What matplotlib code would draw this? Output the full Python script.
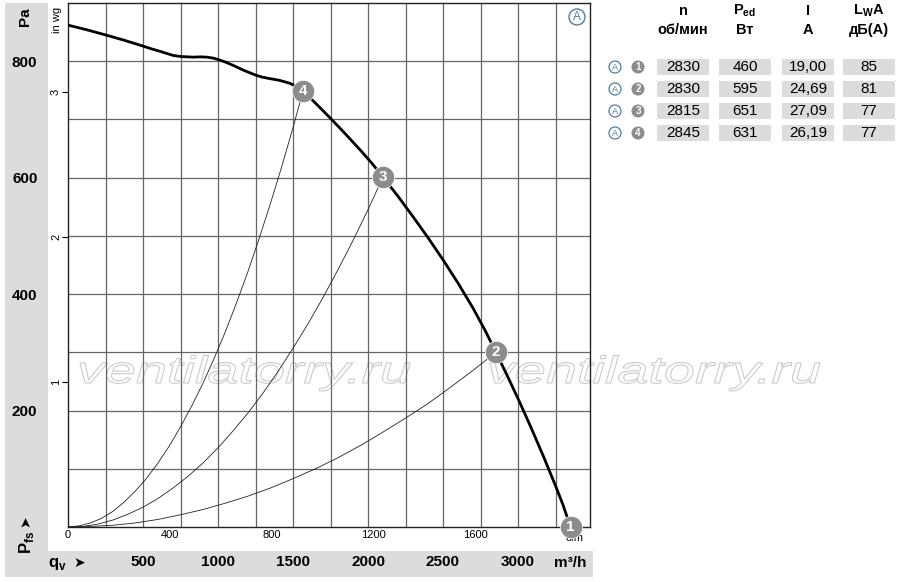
import matplotlib
matplotlib.use('Agg')
import matplotlib.pyplot as plt
import matplotlib.transforms as mtransforms
from matplotlib import font_manager
from matplotlib.font_manager import FontProperties
from matplotlib.textpath import TextPath
from matplotlib.patches import PathPatch, Rectangle, Circle
import numpy as np

# fan curve: air flow qv (m3/h) and static pressure pfs (Pa)
fan_q = [0, 125, 253, 375, 500, 560, 613, 700, 753, 800, 833, 880, 927, 965, 1000, 1050,
         1100, 1175, 1253, 1290, 1327, 1370, 1413, 1480, 1525, 1567,
         1650, 1750, 1850, 1950, 2025, 2100, 2200, 2300, 2400, 2500, 2600, 2700, 2780, 2853,
         2930, 3010, 3090, 3170, 3250, 3300, 3350]
fan_p = [862, 854, 845, 836, 826, 821, 817, 810, 808, 807.5, 807, 807.5, 807, 805.5, 803, 798.5,
         793, 784, 776, 773, 771, 769, 767, 762, 756, 749,
         728, 702, 675, 647, 625, 601, 568, 533, 497, 459, 419, 376, 338, 300,
         259, 215, 169, 121, 71, 38, 0]

# operating points 1..4
point_no = ['1', '2', '3', '4']
point_q = [3350, 2853, 2100, 1567]
point_p = [0, 300, 601, 749]

# system curves ending at points 2, 3 and 4
sys2_q = [0, 150, 300, 450, 600, 750, 900, 1050, 1200, 1350, 1500, 1650, 1800, 1950,
          2100, 2250, 2400, 2550, 2700, 2853]
sys2_p = [0, 1, 3, 7, 13, 21, 30, 41, 53, 67, 83, 100, 119, 140, 163, 187, 212, 240, 269, 300]
sys3_q = [0, 100, 200, 300, 400, 500, 600, 700, 800, 900, 1000, 1100, 1200, 1300, 1400,
          1500, 1600, 1700, 1800, 1900, 2000, 2100]
sys3_p = [0, 1, 5, 12, 22, 34, 49, 67, 87, 110, 136, 165, 196, 230, 267, 307, 349, 394,
          442, 492, 545, 601]
sys4_q = [0, 75, 150, 225, 300, 375, 450, 525, 600, 675, 750, 825, 900, 975, 1050, 1125,
          1200, 1275, 1350, 1425, 1500, 1567]
sys4_p = [0, 2, 7, 15, 27, 43, 62, 84, 110, 139, 172, 208, 247, 290, 336, 386, 439, 496,
          556, 619, 686, 749]

# table
rpm = ['2830', '2830', '2815', '2845']
power = ['460', '595', '651', '631']
current = ['19,00', '24,69', '27,09', '26,19']
noise = ['85', '81', '77', '77']

pa_ticks = [200, 400, 600, 800]
inwg_ticks = [1, 2, 3]
m3h_ticks = [500, 1000, 1500, 2000, 2500, 3000]
cfm_ticks = [0, 400, 800, 1200, 1600]

names = {f.name for f in font_manager.fontManager.ttflist}
narrow = 'Liberation Sans Narrow' if 'Liberation Sans Narrow' in names else 'Liberation Sans'
plt.rcParams['font.family'] = [narrow, 'DejaVu Sans']
plt.rcParams['mathtext.fontset'] = 'custom'
plt.rcParams['mathtext.rm'] = narrow
plt.rcParams['mathtext.bf'] = narrow + ':bold'

W, H = 900, 582
band = '#dcdcde'
grid = '#666666'
blue = '#4f7fa6'
dot = '#8c8c8c'

fig = plt.figure(figsize=(W / 100, H / 100), dpi=100)
# pixel coords, origin top-left
px = mtransforms.Affine2D().scale(1 / W, -1 / H).translate(0, 1) + fig.transFigure

fig.add_artist(Rectangle((5, 3), 43, 574, transform=px, color=band, lw=0, zorder=-2))
fig.add_artist(Rectangle((5, 551), 588, 26, transform=px, color=band, lw=0, zorder=-2))

ax = fig.add_axes([68 / W, 1 - 527 / H, 522 / W, 524 / H])
ax.set_facecolor('none')
ax.set_xlim(0, 3480)
ax.set_ylim(0, 900)

ax.set_xticks(m3h_ticks)
ax.set_xticks(np.arange(250, 3480, 250), minor=True)
ax.set_yticks(pa_ticks)
ax.set_yticks(np.arange(100, 900, 100), minor=True)
ax.grid(which='both', color=grid, lw=0.9)
ax.set_axisbelow(True)
ax.tick_params(which='both', length=0)
ax.tick_params(axis='y', pad=22, labelsize=11)
ax.tick_params(axis='x', pad=20, labelsize=11)
for lab in ax.get_xticklabels() + ax.get_yticklabels():
    lab.set_fontweight('bold')
for s in ax.spines.values():
    s.set_color('#222222')
    s.set_linewidth(1)

secx = ax.secondary_xaxis('bottom', functions=(lambda q: q / 1.699, lambda c: c * 1.699))
secx.set_xticks(cfm_ticks)
secx.tick_params(length=0, pad=2.5, labelsize=8)
secx.spines['bottom'].set_visible(False)

secy = ax.secondary_yaxis('left', functions=(lambda p: p / 249.09, lambda w: w * 249.09))
secy.set_yticks(inwg_ticks)
secy.tick_params(length=4.5, width=0.8, pad=0.5, labelsize=8, labelrotation=90)
for lab in secy.get_yticklabels():
    lab.set_va('center')
secy.spines['left'].set_visible(False)

# watermark
wm_font = FontProperties(family='Liberation Sans', style='italic')
wm_path = TextPath((0, 0), 'ventilatorry.ru', size=38, prop=wm_font)
ext = wm_path.get_extents()
sx = 330 / ext.width
for x0 in (80, 490):
    tr = mtransforms.Affine2D().translate(-ext.x0, 0).scale(sx, -1).translate(x0, 383) + px
    fig.add_artist(PathPatch(wm_path, transform=tr, facecolor='none',
                             edgecolor='#cbcbcb', lw=0.8, zorder=-1))

for q, p in ((sys2_q, sys2_p), (sys3_q, sys3_p), (sys4_q, sys4_p)):
    ax.plot(q, p, color='#222222', lw=0.6, zorder=3)
ax.plot(fan_q, fan_p, color='black', lw=2, zorder=4, solid_joinstyle='round')

ax.text(575, 538, 'cfm', transform=px, fontsize=8, ha='center', va='center', zorder=4)
ax.plot(point_q, point_p, 'o', ms=16, color=dot, mec='white', mew=0.5, clip_on=False, zorder=5)
for n, q, p in zip(point_no, point_q, point_p):
    ax.text(q, p, n, color='white', fontsize=11, fontweight='bold', ha='center', va='center',
            clip_on=False, zorder=6)

fig.add_artist(Circle((577, 17), 8, transform=px, fc='white', ec=blue, lw=1))
fig.text(577, 17.5, 'A', transform=px, color=blue, fontsize=8.5, ha='center', va='center')

# axis captions
fig.text(25, 17, 'Pa', transform=px, rotation=90, fontsize=11, fontweight='bold', ha='center', va='center')
fig.text(57, 20, 'in wg', transform=px, rotation=90, fontsize=8, ha='center', va='center')
fig.text(26, 542, r'$\mathbf{P}_{\mathbf{fs}}$', transform=px, rotation=90, fontsize=12, ha='center', va='center')
fig.text(25, 521, '\u27a4', transform=px, rotation=90, fontsize=10, ha='center', va='center',
         family=['DejaVu Sans'])
fig.text(57, 564, r'$\mathbf{q}_{\mathbf{v}}$', transform=px, fontsize=12, ha='center', va='center')
fig.text(79, 563, '\u27a4', transform=px, fontsize=10, ha='center', va='center', family=['DejaVu Sans'])
fig.text(570, 563, 'm³/h', transform=px, fontsize=11, fontweight='bold', ha='center', va='center')

# table
col_x = [683, 745, 808, 869]
head1 = ['n', r'$\mathbf{P}_{\mathbf{ed}}$', 'I', r'$\mathbf{L}_{\mathbf{W}}\mathbf{A}$']
head2 = ['об/мин', 'Вт', 'A', 'дБ(A)']
for x, h1, h2 in zip(col_x, head1, head2):
    fig.text(x, 11, h1, transform=px, fontsize=10.5, fontweight='bold', ha='center', va='center')
    fig.text(x, 30, h2, transform=px, fontsize=10.5, fontweight='bold', ha='center', va='center')

row_y = [67, 89, 111, 133]
for i, y in enumerate(row_y):
    fig.add_artist(Circle((615, y), 6, transform=px, fc='white', ec=blue, lw=0.9))
    fig.text(615, y + 0.5, 'A', transform=px, color=blue, fontsize=6.5, ha='center', va='center')
    fig.add_artist(Circle((638, y), 6.5, transform=px, fc=dot, ec='none'))
    fig.text(638, y + 0.5, point_no[i], transform=px, color='white', fontsize=7, fontweight='bold',
             ha='center', va='center')
    for x, vals in zip(col_x, (rpm, power, current, noise)):
        fig.add_artist(Rectangle((x - 26, y - 8), 52, 16, transform=px, color=band, lw=0))
        fig.text(x, y, vals[i], transform=px, fontsize=11, ha='center', va='center')

fig.savefig('out.png', dpi=100)
